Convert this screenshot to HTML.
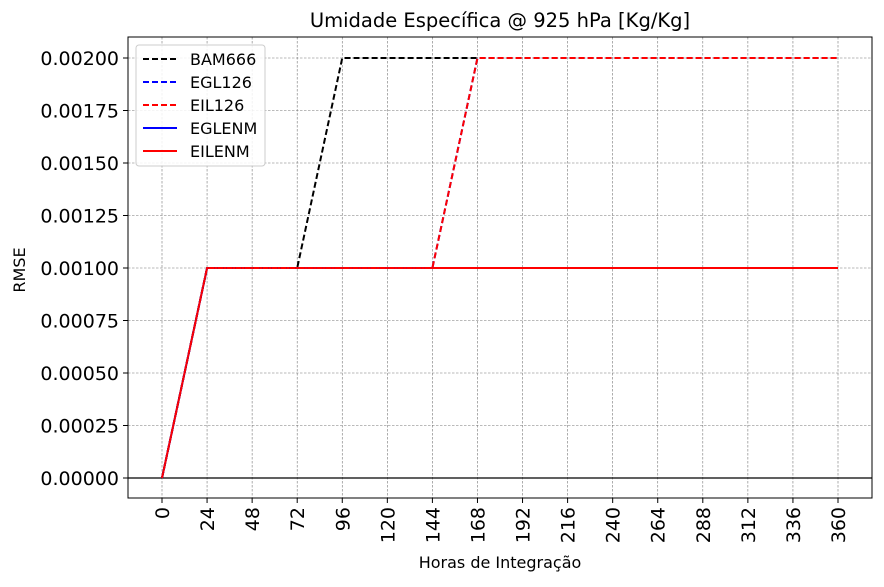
<!DOCTYPE html>
<html><head><meta charset="utf-8"><style>
body{margin:0;background:#fff;font-family:"DejaVu Sans","Liberation Sans",sans-serif;}
svg text{font-family:"DejaVu Sans","Liberation Sans",sans-serif;}
</style></head><body>
<svg id="c" width="884" height="583" xmlns="http://www.w3.org/2000/svg"></svg>
<script>
const xTicks=[0,24,48,72,96,120,144,168,192,216,240,264,288,312,336,360];
const yTicks=[0,0.00025,0.0005,0.00075,0.001,0.00125,0.0015,0.00175,0.002];
const hours=[0,24,48,72,96,120,144,168,192,216,240,264,288,312,336,360];
const bam666=[0,0.001,0.001,0.001,0.002,0.002,0.002,0.002,0.002,0.002,0.002,0.002,0.002,0.002,0.002,0.002];
const egl126=[0,0.001,0.001,0.001,0.001,0.001,0.001,0.002,0.002,0.002,0.002,0.002,0.002,0.002,0.002,0.002];
const eil126=[0,0.001,0.001,0.001,0.001,0.001,0.001,0.002,0.002,0.002,0.002,0.002,0.002,0.002,0.002,0.002];
const eglenm=[0,0.001,0.001,0.001,0.001,0.001,0.001,0.001,0.001,0.001,0.001,0.001,0.001,0.001,0.001,0.001];
const eilenm=[0,0.001,0.001,0.001,0.001,0.001,0.001,0.001,0.001,0.001,0.001,0.001,0.001,0.001,0.001,0.001];
const seriesNames=["BAM666","EGL126","EIL126","EGLENM","EILENM"];
const L=128,R=872,T=37,B=498;
const xs=v=>162+(v-0)*(838-162)/360;
const ys=v=>478-v*(478-58)/0.002;
const svg=document.getElementById('c');
const NS='http://www.w3.org/2000/svg';
function mk(tag,attrs,name,parent){const e=document.createElementNS(NS,tag);for(const k in attrs)e.setAttribute(k,attrs[k]);


(parent||svg).appendChild(e);return e;}
xTicks.forEach(t=>{mk('line',{x1:xs(t),x2:xs(t),y1:T,y2:B,stroke:'#777','stroke-width':0.6,'stroke-dasharray':'2.5,1.5'},'x-grid-line');});
yTicks.forEach(t=>{mk('line',{x1:L,x2:R,y1:ys(t),y2:ys(t),stroke:'#777','stroke-width':0.6,'stroke-dasharray':'2.5,1.5'},'y-grid-line');});
mk('line',{x1:L,x2:R,y1:ys(0),y2:ys(0),stroke:'#000','stroke-width':1.3},'zero-line');
function line(data,color,dash,name){const pts=hours.map((h,i)=>xs(h)+','+ys(data[i])).join(' ');
const a={points:pts,fill:'none',stroke:color,'stroke-width':2};if(dash)a['stroke-dasharray']='6,3';mk('polyline',a,name);}
line(eglenm,'#0000ff',false,'series-eglenm');
line(eilenm,'#ff0000',false,'series-eilenm');
line(bam666,'#000000',true,'series-bam666');
line(egl126,'#0000ff',true,'series-egl126');
line(eil126,'#ff0000',true,'series-eil126');
mk('rect',{x:L,y:T,width:R-L,height:B-T,fill:'none',stroke:'#000','stroke-width':1},'plot-frame');
xTicks.forEach(t=>{const x=xs(t);mk('line',{x1:x,x2:x,y1:B,y2:B+5,stroke:'#000'},'x-tick');
const tx=mk('text',{x:0,y:0,transform:`translate(${x+7},${B+9}) rotate(-90)`,'text-anchor':'end','font-size':19},'x-tick-label');tx.textContent=t;});
yTicks.forEach(t=>{const y=ys(t);mk('line',{x1:L-5,x2:L,y1:y,y2:y,stroke:'#000'},'y-tick');
const tx=mk('text',{x:L-9,y:y+7,'text-anchor':'end','font-size':19},'y-tick-label');tx.textContent=t.toFixed(5);});
let t=mk('text',{x:500,y:27,'text-anchor':'middle','font-size':19.5},'chart-title');t.textContent='Umidade Específica @ 925 hPa [Kg/Kg]';
t=mk('text',{x:500,y:568,'text-anchor':'middle','font-size':16},'x-axis-title');t.textContent='Horas de Integração';
t=mk('text',{x:0,y:0,transform:'translate(25,270) rotate(-90)','text-anchor':'middle','font-size':16},'y-axis-title');t.textContent='RMSE';
const lg=mk('g',{},'legend');
mk('rect',{x:136,y:45,width:129,height:121,rx:3,fill:'#fff','fill-opacity':0.85,stroke:'#ccc'},'legend-box',lg);
const cols=['#000','#00f','#f00','#00f','#f00'],dashes=[1,1,1,0,0];
seriesNames.forEach((n,i)=>{const y=59+i*23;
const a={x1:143,x2:177,y1:y,y2:y,stroke:cols[i],'stroke-width':2};if(dashes[i])a['stroke-dasharray']='6,3';mk('line',a,'legend-swatch',lg);
const tx=mk('text',{x:190,y:y+6,'font-size':16},'legend-entry',lg);tx.textContent=n;});
</script>
</body></html>
